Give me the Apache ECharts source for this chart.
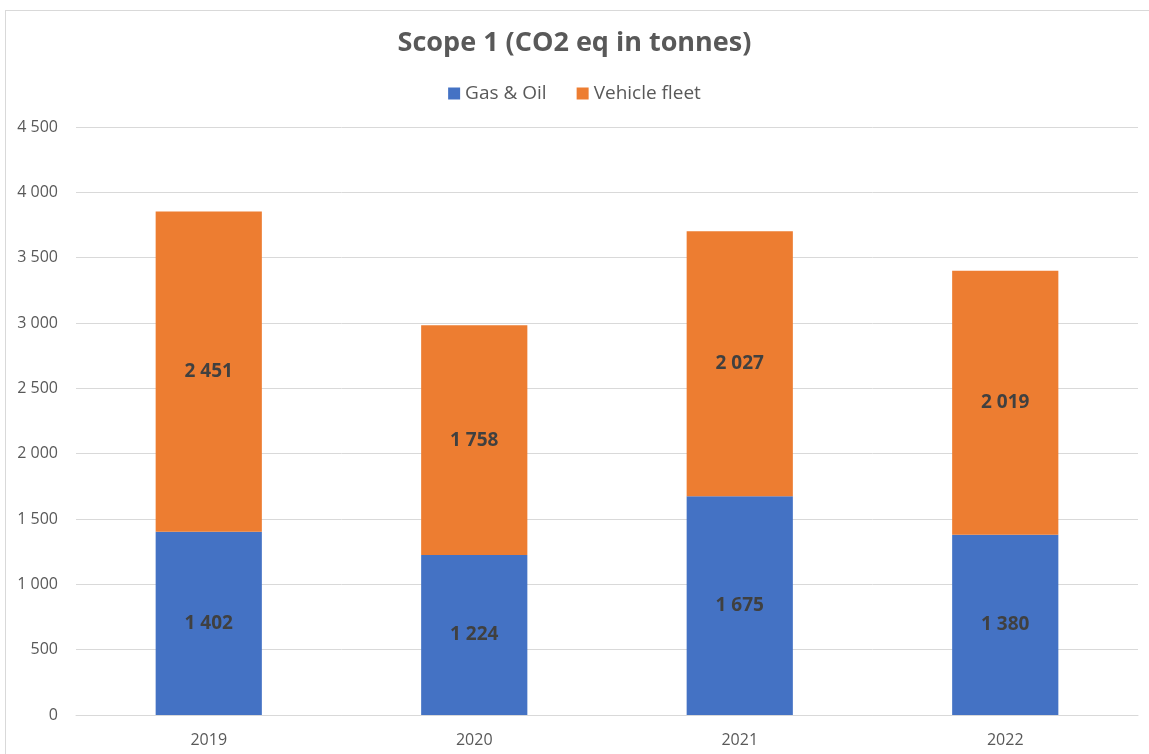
<!DOCTYPE html>
<html><head><meta charset="utf-8">
<script src="https://cdn.jsdelivr.net/npm/echarts@6/dist/echarts.min.js"></script>
<style>html,body{margin:0;padding:0;background:#fff}#frame{position:absolute;left:5px;top:10px;width:1160px;height:760px;border:1px solid #d9d9d9;box-sizing:border-box}#c{position:absolute;left:0;top:0;width:1149px;height:754px}</style>
</head><body><div id="frame"></div><div id="c"></div>
<script>
const categories = ['2019', '2020', '2021', '2022'];
const gasOil = [1402, 1224, 1675, 1380];
const vehicleFleet = [2451, 1758, 2027, 2019];
const seriesNames = ['Gas & Oil', 'Vehicle fleet'];
const titleText = 'Scope 1 (CO2 eq in tonnes)';

function fmt(v) { return String(v).replace(/\B(?=(\d{3})+(?!\d))/g, ' '); }
const FONT = '"Open Sans", "Liberation Sans", sans-serif';
const chart = echarts.init(document.getElementById('c'));
const labelStyle = { show: true, position: 'inside', color: '#404040', fontWeight: 'bold', fontSize: 19, fontFamily: FONT, formatter: p => fmt(p.value) };
chart.setOption({
  animation: false,
  title: { text: titleText, left: 'center', top: 25, textStyle: { color: '#595959', fontSize: 27, fontWeight: 'bold', fontFamily: FONT } },
  legend: { top: 79, left: 'center', itemWidth: 12, itemHeight: 12, itemGap: 30, icon: 'rect', textStyle: { color: '#595959', fontSize: 19, fontFamily: FONT } },
  grid: { left: 76, right: 11, top: 127, bottom: 39 },
  xAxis: { type: 'category', data: categories, axisTick: { show: false }, axisLine: { lineStyle: { color: '#d9d9d9' } }, axisLabel: { color: '#595959', fontSize: 16, fontFamily: FONT, margin: 17 } },
  yAxis: { type: 'value', min: 0, max: 4500, interval: 500, axisLine: { show: false }, axisTick: { show: false }, splitLine: { lineStyle: { color: '#d9d9d9' } }, axisLabel: { color: '#595959', fontSize: 16, fontFamily: FONT, margin: 18, formatter: v => fmt(v) } },
  series: [
    { name: seriesNames[0], type: 'bar', stack: 's', data: gasOil, barWidth: '40%', itemStyle: { color: '#4472c4' }, label: labelStyle },
    { name: seriesNames[1], type: 'bar', stack: 's', data: vehicleFleet, barWidth: '40%', itemStyle: { color: '#ed7d31' }, label: labelStyle }
  ]
});
</script></body></html>
